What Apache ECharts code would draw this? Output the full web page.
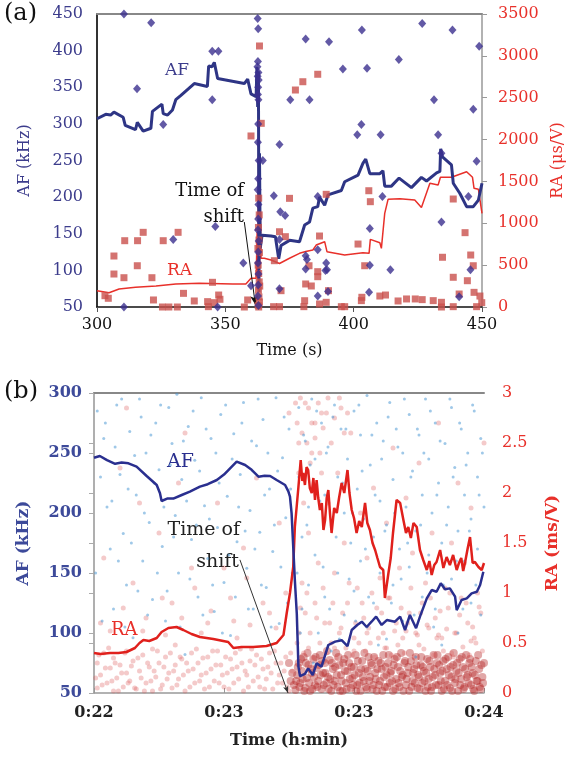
<!DOCTYPE html>
<html>
<head>
<meta charset="utf-8">
<script src="https://cdn.jsdelivr.net/npm/echarts@6/dist/echarts.min.js"></script>
<style>
  html, body { margin: 0; height: 100%; background: #fff; }
  #chart { width: 574px; height: 761px; }
</style>
</head>
<body>
<div id="chart"></div>
<script>
  // ---- panel (a): AF / RA vs Time (s) ----
  const afLineA = [[300,307],[303.4,313],[305.3,312],[306.6,316],[310.2,309],[311,298],[315,292],[315.7,302],[318,290],[321,294],[321.6,317],[325.3,327],[325.8,314],[327.5,312],[329.4,319],[330.7,333],[332.7,339],[337.9,355],[343,351],[343.5,379],[344.8,378],[345.7,384],[347,362],[357.4,355],[358.7,361],[360,341],[362,337],[362.3,378],[362.6,323],[362.9,372],[363.1,70],[363.3,260],[363.6,130],[364.3,148],[367.8,147],[369.5,146],[370.8,116],[371.7,134],[375,141],[378.9,139],[380.9,162],[382.8,166],[384.1,185],[386,187],[386.7,200],[388.7,189],[390,203],[395.2,209],[396.5,221],[401.7,230],[403.6,246],[404.7,252],[406.3,232],[410.2,232],[411.4,236],[412.1,215],[414.7,215],[417.7,226],[422.5,213],[426.4,227],[428.4,222],[432.3,233],[433.6,235],[433.9,266],[434.6,255],[438.1,244],[438.8,219],[441.4,205],[444,187],[446.6,187],[448.6,196],[450,219]];
  const raLineA = [[300,195],[304.7,171],[308.6,215],[315,235],[323,250],[330.7,275],[339.8,283],[352.9,275],[358,275],[360,343],[362,343],[362.4,900],[362.7,330],[363,2200],[363.3,450],[363.6,1200],[363.9,582],[365.2,582],[367.8,561],[371.1,520],[375,582],[378.9,641],[381.3,662],[384.1,681],[385.4,740],[388.7,780],[389,768],[389.6,661],[396.5,621],[403.6,649],[406,641],[406.5,808],[410.2,768],[410.8,701],[412.1,1119],[413.4,1286],[418,1294],[423.8,1278],[426.4,1190],[429.7,1477],[432.9,1457],[433.8,1549],[438.1,1549],[444,1616],[446.3,1549],[446.9,1418],[448.6,1406],[450,1119]];
  const afDotsA = [[310.5,450],[321.1,438],[315.6,348],[325.8,299],[344.9,399],[347.3,399],[344.9,333],[381.3,416],[390.4,412],[395.8,375],[403.2,428],[405.2,376],[417.6,388],[426.7,437],[438.5,428],[448.9,406],[375.3,333],[382.8,333],[431.3,333],[446.6,320],[403,299],[401.4,285],[410.5,285],[432.9,285],[371.1,272],[434.2,260],[447.9,249],[368.9,202],[386,201],[411.2,201],[444.7,201],[371.4,180],[373.3,175],[371.1,142],[381.3,120],[386,128],[381.3,102],[389.3,110],[389.6,101],[406.3,157],[406.3,107],[414.3,101],[434.2,166],[445.5,101],[371.1,75],[386,65],[406,70],[441.1,64],[310.5,50],[329.7,142],[346.1,160],[347,50],[357,110],[360,79],[381.8,115],[390,71],[389,100],[364.6,250],[362.6,444],[362.8,430],[362.7,385],[362.5,378],[362.9,370],[362.6,365],[363,360],[362.8,350],[362.7,340],[362.9,333],[362.8,300],[362.7,275],[363,250],[362.8,225],[362.6,210],[362.9,190],[362.8,170],[362.7,155],[363,140],[362.8,125],[362.7,110],[362.9,95],[362.8,80],[362.7,65],[362.9,52]];
  const raDotsA = [[306.6,609],[310.8,792],[315.8,792],[318,892],[325.8,792],[331.6,892],[306.6,394],[310.5,350],[315.7,493],[321.4,350],[303.1,135],[304.4,104],[322,84],[325.5,0],[328,0],[331.3,0],[333.7,163],[337.9,72],[343.1,64],[345,295],[343.4,4],[345.7,52],[347.4,143],[347.9,92],[357.4,0],[358.7,84],[363.3,3118],[360,2043],[364,2194],[377.3,2592],[380.2,2691],[386,2780],[375,1298],[389.3,1346],[405.9,1389],[406.5,1258],[438.8,1290],[371.1,899],[373.4,840],[386.7,848],[443.4,888],[401.7,752],[434.6,594],[445.6,621],[446.6,493],[404.3,493],[369.1,553],[382.6,493],[386,422],[386,362],[381.3,275],[383.5,251],[438.8,355],[444.3,314],[371.7,195],[390.2,195],[380.9,75],[389.3,56],[403.2,116],[410.2,131],[412.4,143],[417.3,72],[420.6,96],[424,96],[426.7,88],[431,76],[434.2,56],[434.2,0],[438.8,4],[441.1,155],[446.9,175],[449.2,131],[449.9,52],[447.9,4],[403,76],[396.5,4],[395.2,4],[380.6,4],[386.7,36],[371.1,4],[368.8,4],[363,1300],[363.2,1100],[362.9,950],[363.1,800],[363.3,650],[362.8,500],[363,400],[363.2,300],[362.9,200],[363.1,120],[363.3,60],[362.8,20],[363,0],[363.4,250],[362.7,700]];

  // ---- panel (b): AF / RA vs Time (h:min), x in seconds from 0:22 ----
  const timeLabelsB = ['0:22', '0:23', '0:23', '0:24'];
  const afLineB = [[0,246],[1.8,247.5],[4,244],[6.5,241],[8.5,242],[10.6,241.4],[13.1,238.6],[16.2,230.8],[19.3,223.3],[20.3,216.4],[20.8,210],[22.5,212],[24.4,212],[27,215],[29.5,217.8],[32.6,222],[35,224],[37.8,227.5],[40,232],[41.8,237],[43.9,242.8],[46.5,240],[48.5,236],[50.6,230.3],[52.5,231],[54.2,230.8],[56.2,227.5],[58.8,223.3],[59.8,218],[60.3,213.6],[60.8,199.7],[61.3,172],[61.8,144],[62.4,116],[62.9,72],[63.4,64],[64.9,66],[65.9,70.5],[67.3,65],[68.5,74.7],[70,72],[72.1,90],[74.2,92.8],[76.2,94],[78,89],[79.3,102.5],[81,106.7],[82.4,109.4],[83.9,105],[85.4,109.4],[86.8,113.6],[88.5,106.7],[90.1,110.8],[92.6,109.4],[94.2,113.6],[95.7,102.5],[97.2,115],[99.1,104],[100.3,113.6],[102.4,128.9],[103.9,135.8],[105.4,134.4],[106.7,141.4],[108,136.4],[109.5,137.2],[111.1,130.3],[111.6,119],[113.1,127.5],[114.7,128.9],[116.2,133],[117.8,134.4],[118.8,140],[119.8,151]];
  const raLineB = [[0,0.40],[2,0.39],[4.9,0.40],[7.5,0.40],[10,0.41],[12.6,0.45],[14,0.5],[15.2,0.53],[17,0.52],[19.3,0.55],[20.8,0.61],[22.9,0.65],[25.4,0.66],[27.5,0.63],[30,0.59],[32.6,0.56],[36.7,0.54],[41.3,0.51],[42.9,0.45],[45.4,0.46],[49,0.46],[53.1,0.47],[56.2,0.50],[58.3,0.58],[59.3,0.80],[60.3,1.0],[61.3,1.26],[61.8,1.66],[62.9,2.06],[63.6,2.33],[64.1,2.12],[64.4,2.2],[64.9,2.08],[65.4,2.26],[65.9,2.23],[66.4,2.05],[67,2.0],[67.5,2.15],[68,1.93],[68.5,2.13],[69,1.95],[69.5,1.83],[70.1,1.9],[70.6,1.63],[71.1,1.73],[71.6,1.95],[72.1,2.03],[72.6,1.8],[73.1,1.6],[73.9,1.85],[74.7,1.80],[75.4,1.95],[76.2,2.10],[77,2.0],[78,2.23],[78.6,2.0],[79.3,1.83],[80,1.75],[80.8,1.60],[81.6,1.72],[82.4,1.66],[83.4,1.90],[84.1,1.7],[84.9,1.63],[85.7,1.5],[86.5,1.43],[87.2,1.35],[88,1.26],[89,1.23],[89.5,0.95],[90.6,1.2],[91.3,1.35],[92,1.6],[93.1,1.93],[94.2,1.9],[95.2,1.73],[96,1.6],[96.7,1.66],[97.5,1.55],[98.3,1.70],[99.3,1.66],[100.3,1.43],[101.3,1.33],[102.4,1.23],[103.2,1.32],[103.9,1.18],[104.7,1.28],[105.4,1.31],[106.5,1.43],[107.5,1.25],[108.5,1.36],[109.5,1.28],[110.5,1.38],[111.6,1.23],[112.3,1.3],[113,1.35],[113.6,1.22],[114.2,1.31],[115,1.45],[115.7,1.56],[116.5,1.3],[117.2,1.31],[118.3,1.26],[119.3,1.23],[120,1.3]];
  const afDotsB = [[1,285],[3,262],[4,205],[5,170],[6,120],[7,290],[8,232],[9,183],[10,140],[11,268],[12,96],[13,215],[14,295],[15,160],[16,250],[17,192],[18,128],[19,275],[20,236],[21,172],[22,110],[23,288],[24,258],[25,198],[26,150],[27,228],[28,82],[29,272],[30,178],[31,244],[32,130],[33,296],[34,206],[35,162],[36,262],[37,118],[38,188],[39,282],[40,142],[41,214],[42,98],[43,266],[44,176],[45,232],[46,292],[47,154],[48,202],[49,120],[50,256],[51,184],[52,278],[53,138],[54,220],[55,168],[56,296],[57,108],[58,246],[59,196],[60,270],[61,150],[63,288],[63,230],[64,180],[64,120],[65,260],[66,205],[66,140],[67,295],[68,245],[68,165],[69,100],[70,275],[71,215],[71,130],[72,255],[73,190],[73,85],[74,290],[75,230],[75,150],[76,270],[77,200],[77,115],[78,245],[79,175],[80,285],[80,135],[81,220],[82,265],[82,160],[83,195],[84,298],[84,105],[85,240],[86,180],[86,125],[87,275],[88,210],[88,150],[89,260],[90,190],[90,95],[91,292],[92,228],[92,140],[93,270],[94,170],[95,250],[95,110],[96,205],[97,282],[97,155],[98,235],[99,185],[99,80],[100,265],[101,215],[101,130],[102,295],[103,245],[103,165],[104,200],[105,275],[105,120],[106,225],[107,175],[107,90],[108,258],[109,205],[110,288],[110,145],[111,238],[112,185],[112,100],[113,270],[114,215],[114,160],[115,250],[116,195],[116,125],[117,285],[118,230],[118,170],[119,262],[119,115],[120,205]];
  const afDotsB2 = [[0.5,150],[2,230],[2.5,110],[3.5,275],[5.5,210],[6.5,255],[7.5,160],[8.5,295],[9.5,105],[10.5,220],[11.5,175],[12.5,248],[13.5,135],[14.5,280],[15.5,200],[16.5,115],[17.5,265],[18.5,225],[19.5,150],[20.5,290],[21.5,205],[22.5,135],[23.5,240],[24.5,180],[25.5,299],[26.5,105],[27.5,260],[28.5,210],[29.5,145],[30.5,285],[31.5,190],[32.5,235],[33.5,115],[34.5,270],[35.5,195],[36.5,140],[37.5,250],[38.5,225],[39.5,100],[40.5,290],[41.5,165],[42.5,245],[43.5,130],[44.5,205],[45.5,275],[46.5,185],[47.5,120],[48.5,260],[49.5,170],[50.5,295],[51.5,140],[52.5,215],[53.5,250],[54.5,105],[55.5,190],[56.5,235],[57.5,155],[58.5,280],[59.5,125],[60.5,220],[62.5,150],[63.5,100],[64.5,265],[65.5,190],[66.5,240],[67.5,75],[68.5,285],[69.5,210],[70.5,155],[71.5,250],[72.5,120],[73.5,280],[74.5,180],[75.5,95],[76.5,225],[77.5,270],[78.5,145],[79.5,200],[80.5,110],[81.5,290],[82.5,235],[83.5,170],[84.5,130],[85.5,265],[86.5,215],[87.5,90],[88.5,245],[89.5,185],[90.5,280],[91.5,125],[92.5,200],[93.5,255],[94.5,145],[95.5,295],[96.5,175],[97.5,230],[98.5,115],[99.5,270],[100.5,190],[101.5,250],[102.5,150],[103.5,285],[104.5,105],[105.5,215],[106.5,260],[107.5,140],[108.5,190],[109.5,295],[110.5,230],[111.5,160],[112.5,275],[113.5,120],[114.5,240],[115.5,185],[116.5,290],[117.5,140],[118.5,215],[119.5,250]];
  const raDotsB = [[1,0.05],[1,0.3],[2,0.18],[3,0.4],[4,0.1],[5,0.25],[6,0.02],[6,0.35],[7,0.15],[8,0.28],[9,0.06],[10,0.2],[10,0.42],[11,0.12],[12,0.32],[13,0.04],[14,0.22],[15,0.38],[16,0.1],[17,0.26],[18,0.02],[18,0.44],[19,0.16],[20,0.3],[21,0.08],[22,0.36],[23,0.2],[24,0.05],[25,0.28],[25,0.48],[26,0.14],[27,0.34],[28,0.02],[29,0.22],[30,0.4],[31,0.1],[32,0.3],[33,0.18],[34,0.04],[35,0.36],[36,0.24],[37,0.12],[38,0.42],[39,0.28],[40,0.06],[41,0.2],[42,0.34],[43,0.1],[44,0.26],[45,0.44],[46,0.02],[47,0.18],[48,0.32],[49,0.12],[50,0.38],[51,0.06],[52,0.24],[53,0.14],[54,0.4],[55,0.04],[56,0.3],[57,0.18],[58,0.1],[59,0.36],[60,0.02],[61,0.22],[3,1.35],[5,0.62],[8,2.25],[12,1.1],[16,0.75],[20,1.6],[24,0.9],[28,2.6],[30,1.25],[35,0.7],[38,1.9],[42,0.95],[46,1.45],[50,2.15],[54,0.8],[57,1.7],[60,2.8],[22,0.58],[33,0.6],[44,0.55],[14,1.9],[26,2.1],[48,0.68],[10,2.85],[40,1.25],[63,0.6],[64,1.1],[65,0.8],[66,1.6],[67,2.4],[68,0.9],[69,1.3],[70,2.8],[71,0.7],[72,1.9],[73,0.5],[74,1.2],[75,2.2],[76,0.65],[77,1.5],[78,0.9],[79,2.6],[80,0.55],[81,1.05],[82,1.8],[83,0.75],[84,1.35],[85,0.5],[86,2.05],[87,0.85],[88,1.15],[89,0.6],[90,1.7],[91,0.95],[92,2.45],[93,0.7],[94,1.25],[95,0.55],[96,1.95],[97,0.8],[98,1.4],[99,0.6],[100,2.3],[101,0.9],[102,1.1],[103,0.65],[104,1.6],[105,0.75],[106,2.7],[107,0.55],[108,1.05],[109,0.85],[110,1.5],[111,0.6],[112,2.1],[113,0.95],[114,1.3],[115,0.7],[116,1.85],[117,0.55],[118,1.0],[119,0.8],[120,2.5],[65,2.9],[68,2.7],[72,2.95],[76,2.85],[63,2.5],[70,2.2],[74,0.45],[80,0.42],[90,0.45],[100,0.48],[110,0.4],[66,0.45],[84,0.6],[96,0.62],[106,0.58],[116,0.52]];
  const raDotsB2 = [[0.5,0.15],[1.5,0.38],[2.5,0.08],[3.5,0.25],[4.5,0.45],[5.5,0.12],[6.5,0.3],[7.5,0.02],[8.5,0.2],[9.5,0.4],[10.5,0.1],[11.5,0.27],[12.5,0.05],[13.5,0.35],[14.5,0.15],[15.5,0.02],[16.5,0.3],[17.5,0.12],[18.5,0.22],[19.5,0.42],[20.5,0.04],[21.5,0.26],[22.5,0.14],[23.5,0.4],[24.5,0.22],[25.5,0.08],[26.5,0.36],[27.5,0.18],[28.5,0.3],[29.5,0.06],[30.5,0.24],[31.5,0.44],[32.5,0.12],[33.5,0.35],[34.5,0.2],[35.5,0.06],[36.5,0.42],[37.5,0.28],[38.5,0.1],[39.5,0.18],[40.5,0.36],[41.5,0.04],[42.5,0.24],[43.5,0.4],[44.5,0.14],[45.5,0.3],[46.5,0.22],[47.5,0.06],[48.5,0.44],[49.5,0.28],[50.5,0.16],[51.5,0.34],[52.5,0.04],[53.5,0.26],[54.5,0.2],[55.5,0.42],[56.5,0.1],[57.5,0.3],[58.5,0.22],[59.5,0.06],[60.5,0.4],[2,0.7],[9,0.85],[15,0.62],[21,0.95],[27,0.75],[31,1.05],[36,0.82],[43,0.72],[47,1.15],[52,0.9],[56,0.65],[59,1.0],[62.5,0.5],[63.5,0.85],[64.5,0.4],[65.5,1.0],[66.5,0.6],[67.5,0.35],[68.5,0.75],[69.5,0.5],[70.5,1.05],[71.5,0.4],[72.5,0.7],[73.5,0.9],[74.5,0.35],[75.5,0.6],[76.5,0.8],[77.5,0.45],[78.5,1.1],[79.5,0.38],[80.5,0.7],[81.5,0.5],[82.5,0.9],[83.5,0.42],[84.5,0.65],[85.5,1.0],[86.5,0.36],[87.5,0.55],[88.5,0.8],[89.5,0.45],[90.5,0.95],[91.5,0.38],[92.5,0.62],[93.5,0.48],[94.5,0.85],[95.5,0.4],[96.5,0.7],[97.5,1.05],[98.5,0.36],[99.5,0.58],[100.5,0.8],[101.5,0.44],[102.5,0.68],[103.5,0.95],[104.5,0.38],[105.5,0.55],[106.5,0.82],[107.5,0.42],[108.5,0.64],[109.5,1.0],[110.5,0.36],[111.5,0.6],[112.5,0.78],[113.5,0.46],[114.5,0.9],[115.5,0.38],[116.5,0.66],[117.5,0.5],[118.5,0.86],[119.5,0.42],[62,2.9],[62.5,2.7],[63,2.2],[63.5,2.95],[64,2.6],[64.5,1.9],[65.5,2.5],[66,2.85],[66.5,2.3],[67,2.7],[68,2.55],[69,2.9],[69.5,2.4],[70.5,2.65],[71.5,2.8],[73,2.5],[74,2.75],[75.5,2.95],[77,2.6],[78,2.8]];
  const raDenseB = [[62,0.03],[62.5,0.18],[63,0.3],[63.5,0.1],[64,0.22],[64.5,0.36],[65,0.05],[65.5,0.15],[66,0.28],[66.5,0.02],[67,0.2],[67.5,0.34],[68,0.08],[68.5,0.25],[69,0.12],[69.5,0.38],[70,0.04],[70.5,0.2],[71,0.3],[71.5,0.1],[72,0.16],[72.5,0.33],[73,0.02],[73.5,0.24],[74,0.12],[74.5,0.4],[75,0.06],[75.5,0.28],[76,0.18],[76.5,0.02],[77,0.34],[77.5,0.1],[78,0.22],[78.5,0.3],[79,0.05],[79.5,0.15],[80,0.26],[80.5,0.38],[81,0.08],[81.5,0.2],[82,0.02],[82.5,0.32],[83,0.12],[83.5,0.24],[84,0.04],[84.5,0.36],[85,0.16],[85.5,0.28],[86,0.08],[86.5,0.2],[87,0.02],[87.5,0.32],[88,0.12],[88.5,0.24],[89,0.38],[89.5,0.06],[90,0.18],[90.5,0.3],[91,0.1],[91.5,0.22],[92,0.02],[92.5,0.34],[93,0.14],[93.5,0.26],[94,0.06],[94.5,0.4],[95,0.18],[95.5,0.3],[96,0.08],[96.5,0.2],[97,0.02],[97.5,0.32],[98,0.12],[98.5,0.24],[99,0.36],[99.5,0.05],[100,0.16],[100.5,0.28],[101,0.1],[101.5,0.22],[102,0.02],[102.5,0.34],[103,0.14],[103.5,0.26],[104,0.06],[104.5,0.38],[105,0.18],[105.5,0.3],[106,0.08],[106.5,0.2],[107,0.02],[107.5,0.32],[108,0.12],[108.5,0.24],[109,0.36],[109.5,0.05],[110,0.16],[110.5,0.28],[111,0.1],[111.5,0.22],[112,0.02],[112.5,0.34],[113,0.14],[113.5,0.26],[114,0.06],[114.5,0.38],[115,0.18],[115.5,0.3],[116,0.08],[116.5,0.2],[117,0.02],[117.5,0.32],[118,0.12],[118.5,0.24],[119,0.04],[119.5,0.16],[120,0.3]];
  const raDenseB2 = [[62.2,0.12],[62.7,0.26],[63.2,0.06],[63.7,0.34],[64.2,0.14],[64.7,0.02],[65.2,0.3],[65.7,0.4],[66.2,0.1],[66.7,0.24],[67.2,0.04],[67.7,0.16],[68.2,0.36],[68.7,0.06],[69.2,0.28],[69.7,0.18],[70.2,0.32],[70.7,0.08],[71.2,0.2],[71.7,0.42],[72.2,0.04],[72.7,0.14],[73.2,0.3],[73.7,0.08],[74.2,0.26],[74.7,0.18],[75.2,0.36],[75.7,0.02],[76.2,0.12],[76.7,0.3],[77.2,0.22],[77.7,0.04],[78.2,0.38],[78.7,0.14],[79.2,0.26],[79.7,0.08],[80.2,0.18],[80.7,0.02],[81.2,0.32],[81.7,0.1],[82.2,0.24],[82.7,0.16],[83.2,0.4],[83.7,0.06],[84.2,0.22],[84.7,0.12],[85.2,0.3],[85.7,0.04],[86.2,0.36],[86.7,0.14],[87.2,0.24],[87.7,0.08],[88.2,0.3],[88.7,0.02],[89.2,0.16],[89.7,0.26],[90.2,0.06],[90.7,0.38],[91.2,0.2],[91.7,0.12],[92.2,0.28],[92.7,0.04],[93.2,0.36],[93.7,0.1],[94.2,0.22],[94.7,0.16],[95.2,0.02],[95.7,0.32],[96.2,0.14],[96.7,0.26],[97.2,0.4],[97.7,0.06],[98.2,0.2],[98.7,0.1],[99.2,0.28],[99.7,0.18],[100.2,0.04],[100.7,0.36],[101.2,0.26],[101.7,0.12],[102.2,0.2],[102.7,0.06],[103.2,0.32],[103.7,0.02],[104.2,0.16],[104.7,0.24],[105.2,0.08],[105.7,0.38],[106.2,0.28],[106.7,0.12],[107.2,0.22],[107.7,0.04],[108.2,0.34],[108.7,0.08],[109.2,0.18],[109.7,0.26],[110.2,0.02],[110.7,0.4],[111.2,0.14],[111.7,0.3],[112.2,0.2],[112.7,0.08],[113.2,0.36],[113.7,0.04],[114.2,0.24],[114.7,0.16],[115.2,0.1],[115.7,0.34],[116.2,0.26],[116.7,0.04],[117.2,0.18],[117.7,0.12],[118.2,0.38],[118.7,0.06],[119.2,0.28],[119.7,0.1],[61.5,0.08],[61,0.2],[60.5,0.12],[60,0.3]];

  const shiftArrowA = [[357.4, 166], [361.7, 53]];
  const shiftArrowB = [[44.9, 161], [59.7, 50]];

  const SERIF = '"DejaVu Serif", "Liberation Serif", serif';
  const NAVY = '#2e3585';
  const PURPLE = '#3b2f8e';
  const RED = '#e8302a';

  const chart = echarts.init(document.getElementById('chart'), null, { renderer: 'canvas' });

  const plain = v => String(v);

  const option = {
    animation: false,
    backgroundColor: '#fff',
    grid: [
      { left: 97, top: 14, width: 385, height: 293 },
      { left: 94, top: 393, width: 390, height: 300 }
    ],
    xAxis: [
      {
        gridIndex: 0, type: 'value', min: 300, max: 450, interval: 50,
        name: 'Time (s)', nameLocation: 'middle', nameGap: 36,
        nameTextStyle: { fontFamily: SERIF, fontSize: 16, color: '#111' },
        axisLine: { lineStyle: { color: '#111', width: 1.5 } },
        axisTick: { show: true, length: 5, lineStyle: { color: '#555' } },
        axisLabel: { fontFamily: SERIF, fontSize: 16, color: '#111', margin: 10 },
        splitLine: { show: false }
      },
      {
        gridIndex: 0, type: 'value', min: 300, max: 450, position: 'top',
        axisLine: { lineStyle: { color: '#888', width: 2 } },
        axisTick: { show: false }, axisLabel: { show: false }, splitLine: { show: false }
      },
      {
        gridIndex: 1, type: 'value', min: 0, max: 120, interval: 40,
        name: 'Time (h:min)', nameLocation: 'middle', nameGap: 40,
        nameTextStyle: { fontFamily: SERIF, fontSize: 16, fontWeight: 'bold', color: '#222' },
        axisLine: { lineStyle: { color: '#999', width: 1.5 } },
        axisTick: { show: true, inside: true, length: 5, lineStyle: { color: '#999' } },
        axisLabel: {
          fontFamily: SERIF, fontSize: 16, fontWeight: 'bold', color: '#222', margin: 12,
          formatter: v => timeLabelsB[Math.round(v / 40)]
        },
        splitLine: { show: false }
      },
      {
        gridIndex: 1, type: 'value', min: 0, max: 120, position: 'top',
        axisLine: { lineStyle: { color: '#888', width: 2 } },
        axisTick: { show: false }, axisLabel: { show: false }, splitLine: { show: false }
      }
    ],
    yAxis: [
      {
        gridIndex: 0, type: 'value', min: 50, max: 450, interval: 50, position: 'left',
        name: 'AF (kHz)', nameLocation: 'middle', nameGap: 64, nameRotate: 90,
        nameTextStyle: { fontFamily: SERIF, fontSize: 16, color: '#3c3c8c' },
        axisLine: { show: true, lineStyle: { color: '#333', width: 2 } },
        axisTick: { show: false },
        axisLabel: { fontFamily: SERIF, fontSize: 16, color: '#3c3c8c', margin: 14, formatter: plain },
        splitLine: { show: false }
      },
      {
        gridIndex: 0, type: 'value', min: 0, max: 3500, interval: 500, position: 'right',
        name: 'RA (μs/V)', nameLocation: 'middle', nameGap: 62, nameRotate: 90,
        nameTextStyle: { fontFamily: SERIF, fontSize: 16, color: RED },
        axisLine: { show: true, lineStyle: { color: '#999', width: 1.5 } },
        axisTick: { show: true, length: 5, lineStyle: { color: '#999' } },
        axisLabel: { fontFamily: SERIF, fontSize: 16, color: RED, margin: 16, formatter: plain },
        splitLine: { show: false }
      },
      {
        gridIndex: 1, type: 'value', min: 50, max: 300, interval: 50, position: 'left',
        name: 'AF (kHz)', nameLocation: 'middle', nameGap: 62, nameRotate: 90,
        nameTextStyle: { fontFamily: SERIF, fontSize: 17, fontWeight: 'bold', color: '#3d4a9a' },
        axisLine: { show: true, lineStyle: { color: '#aaa', width: 1.5 } },
        axisTick: { show: true, length: 5, lineStyle: { color: '#aaa' } },
        axisLabel: { fontFamily: SERIF, fontSize: 16, fontWeight: 'bold', color: '#3d4a9a', margin: 12 },
        splitLine: { show: false }
      },
      {
        gridIndex: 1, type: 'value', min: 0, max: 3, interval: 0.5, position: 'right',
        name: 'RA (ms/V)', nameLocation: 'middle', nameGap: 60, nameRotate: 90,
        nameTextStyle: { fontFamily: SERIF, fontSize: 17, fontWeight: 'bold', color: RED },
        axisLine: { show: true, lineStyle: { color: '#aaa', width: 1.5 } },
        axisTick: { show: true, inside: true, length: 5, lineStyle: { color: '#aaa' } },
        axisLabel: { fontFamily: SERIF, fontSize: 16, color: RED, margin: 18 },
        splitLine: { show: false }
      }
    ],
    series: [
      // panel (a)
      {
        type: 'line', xAxisIndex: 0, yAxisIndex: 1, data: raLineA, showSymbol: false,
        lineStyle: { color: RED, width: 1.5 }, z: 3
      },
      {
        type: 'line', xAxisIndex: 0, yAxisIndex: 0, data: afLineA, showSymbol: false,
        lineStyle: { color: NAVY, width: 3 }, z: 4,
        markLine: {
          silent: true, symbol: ['none', 'arrow'], symbolSize: [6, 9],
          lineStyle: { color: '#111', width: 1, type: 'solid' }, label: { show: false },
          data: [[{ coord: shiftArrowA[0] }, { coord: shiftArrowA[1] }]]
        }
      },
      {
        type: 'scatter', xAxisIndex: 0, yAxisIndex: 1, data: raDotsA, symbol: 'rect', symbolSize: 7,
        itemStyle: { color: '#c9504c' }, z: 5
      },
      {
        type: 'scatter', xAxisIndex: 0, yAxisIndex: 0, data: afDotsA, symbol: 'diamond', symbolSize: [8, 9],
        itemStyle: { color: PURPLE }, z: 5
      },
      // panel (b)
      {
        type: 'scatter', xAxisIndex: 2, yAxisIndex: 3, data: raDenseB, symbolSize: 8,
        itemStyle: { color: 'rgba(180,35,35,0.5)' }, z: 1
      },
      {
        type: 'scatter', xAxisIndex: 2, yAxisIndex: 3, data: raDenseB2, symbolSize: 8,
        itemStyle: { color: 'rgba(180,35,35,0.5)' }, z: 1
      },
      {
        type: 'scatter', xAxisIndex: 2, yAxisIndex: 3, data: raDotsB, symbolSize: 5,
        itemStyle: { color: 'rgba(220,90,90,0.4)' }, z: 1
      },
      {
        type: 'scatter', xAxisIndex: 2, yAxisIndex: 3, data: raDotsB2, symbolSize: 5,
        itemStyle: { color: 'rgba(220,90,90,0.4)' }, z: 1
      },
      {
        type: 'scatter', xAxisIndex: 2, yAxisIndex: 2, data: afDotsB, symbolSize: 3,
        itemStyle: { color: 'rgba(70,150,210,0.65)' }, z: 2
      },
      {
        type: 'scatter', xAxisIndex: 2, yAxisIndex: 2, data: afDotsB2, symbolSize: 3,
        itemStyle: { color: 'rgba(70,150,210,0.65)' }, z: 2
      },
      {
        type: 'line', xAxisIndex: 2, yAxisIndex: 3, data: raLineB, showSymbol: false,
        lineStyle: { color: '#e0201c', width: 2.5 }, z: 3
      },
      {
        type: 'line', xAxisIndex: 2, yAxisIndex: 2, data: afLineB, showSymbol: false,
        lineStyle: { color: '#2a2f8f', width: 2.5 }, z: 4,
        markLine: {
          silent: true, symbol: ['none', 'arrow'], symbolSize: [4, 7],
          lineStyle: { color: '#333', width: 1, type: 'solid' }, label: { show: false },
          data: [[{ coord: shiftArrowB[0] }, { coord: shiftArrowB[1] }]]
        }
      }
    ],
    graphic: [
      { type: 'text', x: 4, y: 2, style: { text: '(a)', font: '24px ' + SERIF, fill: '#111' } },
      { type: 'text', x: 4, y: 380, style: { text: '(b)', font: '24px ' + SERIF, fill: '#111' } },
      { type: 'text', x: 165, y: 62, style: { text: 'AF', font: '17px ' + SERIF, fill: '#3c3c8c' } },
      { type: 'text', x: 167, y: 262, style: { text: 'RA', font: '17px ' + SERIF, fill: RED } },
      { type: 'text', x: 244, y: 191, style: { text: 'Time of', font: '18px ' + SERIF, fill: '#111', align: 'right', verticalAlign: 'middle' } },
      { type: 'text', x: 244, y: 217, style: { text: 'shift', font: '18px ' + SERIF, fill: '#111', align: 'right', verticalAlign: 'middle' } },
      { type: 'text', x: 167, y: 453, style: { text: 'AF', font: '19px ' + SERIF, fill: '#2a2f8f' } },
      { type: 'text', x: 111, y: 621, style: { text: 'RA', font: '18px ' + SERIF, fill: RED } },
      { type: 'text', x: 240, y: 530, style: { text: 'Time of', font: '19px ' + SERIF, fill: '#222', align: 'right', verticalAlign: 'middle' } },
      { type: 'text', x: 239, y: 562, style: { text: 'shift', font: '19px ' + SERIF, fill: '#222', align: 'right', verticalAlign: 'middle' } }
    ]
  };

  chart.setOption(option);
  window.addEventListener('resize', chart.resize);
</script>
</body>
</html>
